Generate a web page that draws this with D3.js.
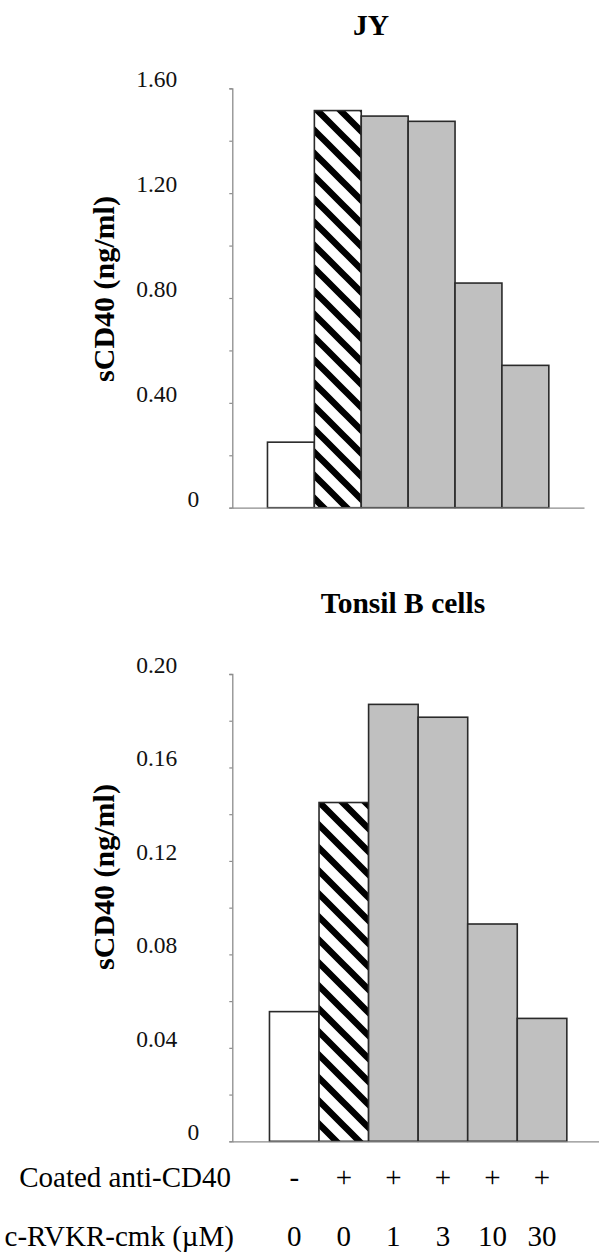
<!DOCTYPE html>
<html>
<head>
<meta charset="utf-8">
<script src="https://cdn.jsdelivr.net/npm/d3@7"></script>
<style>
  html, body { margin: 0; padding: 0; background: #fff; }
  svg { display: block; font-family: "Liberation Serif", "Times New Roman", serif; }
  svg text { font-family: "Liberation Serif", "Times New Roman", serif; }
</style>
</head>
<body>
<svg id="chart" width="599" height="1252"></svg>
<script>
// ---- data ----
const categories = ["ctrl", "aCD40", "aCD40+1", "aCD40+3", "aCD40+10", "aCD40+30"];
const treatment = ["none", "antiCD40", "inhibitor", "inhibitor", "inhibitor", "inhibitor"];
const jyValues = [0.25, 1.515, 1.494, 1.474, 0.857, 0.543];
const tonsilValues = [0.0555, 0.145, 0.187, 0.1815, 0.093, 0.0526];
const jyTicks = [0, 0.2, 0.4, 0.6, 0.8, 1.0, 1.2, 1.4, 1.6];
const jyTickLabels = ["0", "", "0.40", "", "0.80", "", "1.20", "", "1.60"];
const tonsilTicks = [0, 0.02, 0.04, 0.06, 0.08, 0.10, 0.12, 0.14, 0.16, 0.18, 0.20];
const tonsilTickLabels = ["0", "", "0.04", "", "0.08", "", "0.12", "", "0.16", "", "0.20"];
const coatedLabels = ["-", "+", "+", "+", "+", "+"];
const doseLabels = ["0", "0", "1", "3", "10", "30"];
const titles = ["JY", "Tonsil B cells"];
const yTitle = "sCD40 (ng/ml)";
const rowTitles = ["Coated anti-CD40", "c-RVKR-cmk (\u00B5M)"];

const SERIF = "Liberation Serif, Times New Roman, serif";
const svg = d3.select("#chart");
const defs = svg.append("defs");
const pat = defs.append("pattern")
  .attr("id", "hatch").attr("patternUnits", "userSpaceOnUse")
  .attr("width", 23).attr("height", 23);
pat.append("rect").attr("width", 23).attr("height", 23).attr("fill", "#fff");
pat.append("path")
  .attr("d", "M-6,-6 L29,29 M-6,17 L6,29 M17,-6 L29,6")
  .attr("stroke", "#000").attr("stroke-width", 6.5);

const fillFor = t => t === "none" ? "#fff" : (t === "antiCD40" ? "url(#hatch)" : "#c0c0c0");
const AXIS = "#8c8c8c";

function panel(cfg) {
  const y = d3.scaleLinear().domain([cfg.ticks[0], cfg.ticks[cfg.ticks.length - 1]])
    .range([cfg.y0, cfg.y1]);
  const x = d3.scaleBand().domain(categories).range([cfg.x0, cfg.x1])
    .paddingInner(0).paddingOuter(0.75);
  const g = svg.append("g");

  g.selectAll("rect.bar").data(cfg.values).join("rect")
    .attr("class", "bar")
    .attr("x", (d, i) => x(categories[i]))
    .attr("width", x.bandwidth())
    .attr("y", d => y(d))
    .attr("height", d => y(0) - y(d))
    .attr("fill", (d, i) => fillFor(treatment[i]))
    .attr("stroke", "#2a2a2a").attr("stroke-width", 1.6);

  const xa = g.append("g").attr("transform", `translate(0,${y(0)})`)
    .call(d3.axisBottom(x).tickSize(0).tickFormat(""));
  xa.select(".domain").attr("stroke", AXIS).attr("stroke-width", 1.3);

  const ya = g.append("g").attr("transform", `translate(${cfg.x0},0)`)
    .call(d3.axisLeft(y).tickValues(cfg.ticks).tickSize(3).tickSizeOuter(3)
      .tickFormat((d, i) => cfg.labels[i]));
  ya.attr("font-family", SERIF);
  ya.select(".domain").attr("stroke", AXIS).attr("stroke-width", 1.3);
  ya.selectAll(".tick line").attr("stroke", AXIS).attr("stroke-width", 1.2);
  ya.selectAll(".tick text")
    .attr("fill", "#111").attr("font-size", 23.5)
    .attr("font-family", SERIF)
    .attr("dy", "0.32em")
    .attr("y", -9)
    .attr("x", function () { return d3.select(this).text() === "0" ? -33 : -55; });

  svg.append("text").attr("x", cfg.titleX).attr("y", cfg.titleY)
    .attr("text-anchor", "middle").attr("font-weight", "bold")
    .attr("font-family", SERIF)
    .attr("font-size", 29.5).attr("fill", "#000").text(cfg.title);

  svg.append("text")
    .attr("transform", `translate(103,${cfg.yTitleC}) rotate(-90)`)
    .attr("text-anchor", "middle").attr("dominant-baseline", "central")
    .attr("font-family", SERIF)
    .attr("font-weight", "bold").attr("font-size", 30).attr("fill", "#000")
    .text(yTitle);
  return x;
}

panel({ values: jyValues, ticks: jyTicks, labels: jyTickLabels,
  y0: 507.7, y1: 88.3, x0: 232.3, x1: 584,
  title: titles[0], titleX: 371, titleY: 35, yTitleC: 289 });

const xb = panel({ values: tonsilValues, ticks: tonsilTicks, labels: tonsilTickLabels,
  y0: 1141.3, y1: 674, x0: 232.3, x1: 604,
  title: titles[1], titleX: 403, titleY: 613, yTitleC: 877 });

svg.append("text").attr("x", 231).attr("y", 1187).attr("text-anchor", "end")
  .attr("font-family", SERIF)
  .attr("font-size", 29).attr("fill", "#000").text(rowTitles[0]);
svg.append("text").attr("x", 234).attr("y", 1246).attr("text-anchor", "end")
  .attr("font-family", SERIF)
  .attr("font-size", 29).attr("fill", "#000").text(rowTitles[1]);

svg.selectAll("text.coated").data(coatedLabels).join("text")
  .attr("class", "coated")
  .attr("x", (d, i) => xb(categories[i]) + xb.bandwidth() / 2)
  .attr("y", 1187).attr("text-anchor", "middle")
  .attr("font-family", SERIF)
  .attr("font-size", 29).attr("fill", "#000").text(d => d);

svg.selectAll("text.dose").data(doseLabels).join("text")
  .attr("class", "dose")
  .attr("x", (d, i) => xb(categories[i]) + xb.bandwidth() / 2)
  .attr("y", 1246).attr("text-anchor", "middle")
  .attr("font-family", SERIF)
  .attr("font-size", 29).attr("fill", "#000").text(d => d);
</script>
</body>
</html>
